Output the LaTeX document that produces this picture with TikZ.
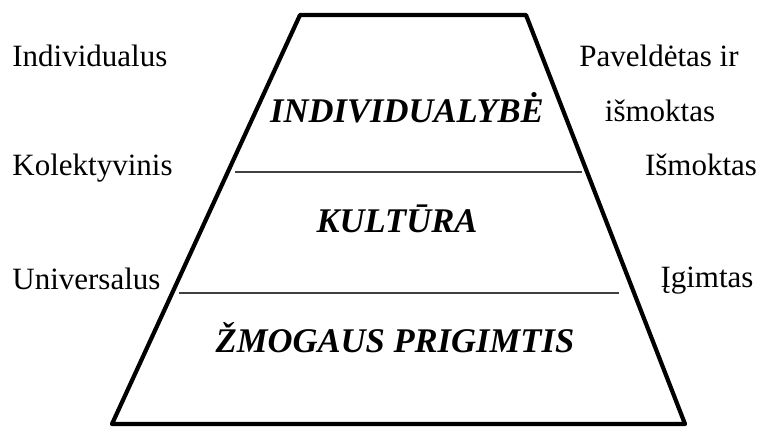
\documentclass[tikz,border=0pt]{standalone}
\usepackage{fontspec}
\setmainfont{Liberation Serif}
\usetikzlibrary{positioning}

\begin{document}
\begin{tikzpicture}[
    x=0.5pt, y=-0.5pt,
    lvl/.style={font=\fontsize{17.3}{20}\selectfont\bfseries\itshape, inner sep=0pt, anchor=base},
    lbl/.style={font=\fontsize{15.5}{18}\selectfont, inner sep=0pt, anchor=base},
    trap/.style={line width=2.1pt, line join=round},
    divider/.style={black!75, line width=0.6pt},
  ]
  \useasboundingbox (0,0) rectangle (760,428);

  % Pyramid corners
  \coordinate (tl) at (300,15);
  \coordinate (tr) at (526,15);
  \coordinate (br) at (685,424);
  \coordinate (bl) at (112,424);
  \draw[trap] (tl) -- (tr) -- (br) -- (bl) -- cycle;

  % Dividers
  \coordinate (upL) at (235,172);
  \coordinate (upR) at (582,172);
  \coordinate (loL) at (179,293);
  \coordinate (loR) at (619,293);
  \draw[divider] (upL) -- (upR);
  \draw[divider] (loL) -- (loR);

  % Levels
  \node[lvl] (indiv) at (407,122) {INDIVIDUALYBĖ};
  \node[lvl] (kult)  at (397,232) {KULTŪRA};
  \node[lvl] (prig)  at (395,352) {ŽMOGAUS PRIGIMTIS};

  % Left labels
  \node[lbl, anchor=base west] (individ) at (12,66)  {Individualus};
  \node[lbl, anchor=base west] (kolekt)  at (12,175) {Kolektyvinis};
  \node[lbl, anchor=base west] (univ)    at (12,289) {Universalus};

  % Right labels
  \node[lbl] (pavel) at (659,66)  {Paveldėtas ir};
  \node[lbl] (ismok) at (660,121) {išmoktas};
  \node[lbl] (isn)   at (701,175) {Išmoktas};
  \node[lbl] (igim)  at (707,287) {Įgimtas};
\end{tikzpicture}
\end{document}
